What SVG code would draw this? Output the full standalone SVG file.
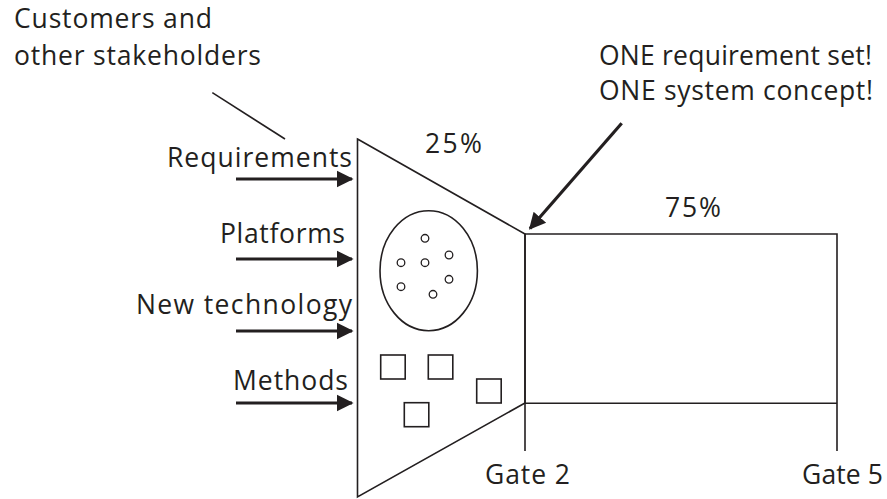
<svg xmlns="http://www.w3.org/2000/svg" width="887" height="499" viewBox="0 0 887 499">
<style>
text{font-family:"Open Sans","Liberation Sans",sans-serif;font-size:26.5px;fill:#231f20}
.ln{fill:none;stroke:#231f20;stroke-width:1.6}
.ar{fill:none;stroke:#231f20;stroke-width:3.2}
.dot{fill:#fff;stroke:#231f20;stroke-width:1.3}
</style>
<defs>
<marker id="ah" markerWidth="5.2" markerHeight="6" refX="4.7" refY="3" orient="auto" markerUnits="strokeWidth" viewBox="0 0 5.2 6">
<path d="M0,0.4 L5.2,3 L0,5.6 z" fill="#231f20"/>
</marker>
</defs>
<rect width="887" height="499" fill="#fff"/>
<g id="stakeholders">
<text x="14" y="28" textLength="198">Customers and</text>
<text x="14" y="65" textLength="247">other stakeholders</text>
</g>
<g id="funnel">
<polygon class="ln" points="357.5,139 525,234 525,403 357.5,497"/>
<text x="425" y="153" textLength="57">25%</text>
<ellipse class="ln" cx="428.7" cy="270.7" rx="48.7" ry="60"/>
<circle class="dot" cx="425" cy="238.3" r="3.8"/>
<circle class="dot" cx="449" cy="255" r="3.8"/>
<circle class="dot" cx="401" cy="262.7" r="3.8"/>
<circle class="dot" cx="425" cy="262.7" r="3.8"/>
<circle class="dot" cx="449" cy="279.3" r="3.8"/>
<circle class="dot" cx="401" cy="286.7" r="3.8"/>
<circle class="dot" cx="433" cy="294.3" r="3.8"/>
<rect class="ln" x="380.7" y="355" width="24.5" height="24"/>
<rect class="ln" x="428.3" y="355" width="24.5" height="24"/>
<rect class="ln" x="476.7" y="379" width="24.5" height="24"/>
<rect class="ln" x="404.3" y="402.7" width="24.5" height="24"/>
</g>
<g id="development">
<polyline class="ln" points="525,451 525,234 837,234 837,451"/>
<line class="ln" x1="525" y1="403.3" x2="837" y2="403.3"/>
<text x="665" y="217" textLength="56">75%</text>
<text x="485" y="484" textLength="85">Gate 2</text>
<text x="802" y="484" textLength="81">Gate 5</text>
</g>
<g id="one-set">
<text x="599" y="65" textLength="273">ONE requirement set!</text>
<text x="599" y="100" textLength="274">ONE system concept!</text>
</g>
<g id="inputs">
<text x="167" y="167" textLength="185">Requirements</text>
<text x="220" y="243" textLength="125">Platforms</text>
<text x="136" y="314" textLength="216">New technology</text>
<text x="233" y="390" textLength="115">Methods</text>
</g>
<g id="connectors">
<line class="ln" x1="212.3" y1="92.7" x2="285" y2="139"/>
<line class="ar" x1="236" y1="179" x2="352" y2="179" marker-end="url(#ah)"/>
<line class="ar" x1="236" y1="259" x2="352" y2="259" marker-end="url(#ah)"/>
<line class="ar" x1="236" y1="331" x2="352" y2="331" marker-end="url(#ah)"/>
<line class="ar" x1="236" y1="403" x2="352" y2="403" marker-end="url(#ah)"/>
<line class="ar" x1="621.7" y1="123.3" x2="530" y2="228.5" marker-end="url(#ah)"/>
</g>
</svg>
